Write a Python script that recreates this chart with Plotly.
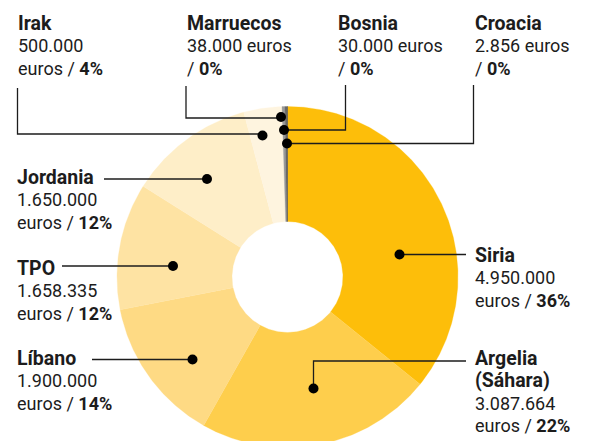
import math
import plotly.graph_objects as go

# ---- data ----
countries = ["Siria", "Argelia (Sáhara)", "Líbano", "TPO", "Jordania", "Irak",
             "Marruecos", "Bosnia", "Croacia"]
amounts = [4950000, 3087664, 1900000, 1658335, 1650000, 500000, 38000, 30000, 2856]
amount_labels = ["4.950.000", "3.087.664", "1.900.000", "1.658.335", "1.650.000",
                 "500.000", "38.000", "30.000", "2.856"]
pct_labels = ["36%", "22%", "14%", "12%", "12%", "4%", "0%", "0%", "0%"]
colors = ["#FDBE0A", "#FECE4C", "#FEDA84", "#FEE3A3", "#FEEEC8", "#FEF4DF",
          "#9A9A9A", "#6A6A6A", "#4A4A4A"]

# ---- layout constants (pixels) ----
W, H = 595, 441
OFF = 8  # default page body margin
CX, CY = 287.5, 277.0
R_OUT, R_IN = 170.5, 55.5
FONT = "Roboto"
FS = 17.2
TITLE_PX = 19.5
BODY_PX = 18
TXT = "#1c1c1c"
LINE = "#1c1c1c"

fig = go.Figure()

total = sum(amounts)
cum = 0.0
for name, val, col in zip(countries, amounts, colors):
    a0 = cum / total * 2 * math.pi
    cum += val
    a1 = cum / total * 2 * math.pi
    n = max(3, int((a1 - a0) * 180 / math.pi * 2))
    angs = [a0 + (a1 - a0) * k / n for k in range(n + 1)]
    xs = [CX + R_OUT * math.sin(a) for a in angs] + [CX + R_IN * math.sin(a) for a in reversed(angs)]
    ys = [CY - R_OUT * math.cos(a) for a in angs] + [CY - R_IN * math.cos(a) for a in reversed(angs)]
    xs.append(xs[0]); ys.append(ys[0])
    fig.add_trace(go.Scatter(x=xs, y=ys, mode="lines", fill="toself", fillcolor=col,
                             line=dict(width=0.3, color=col), hoverinfo="text",
                             text=name, showlegend=False))

# label placement: text anchor (x, y_top), leader polyline, dot
labels = {
    "Siria":            dict(tx=473.5, ty=243, path=[(466, 254.5), (399.5, 254.5)]),
    "Argelia (Sáhara)": dict(tx=473.5, ty=345.5, path=[(466, 361), (313.5, 361), (313.5, 388.5)]),
    "Líbano":           dict(tx=16, ty=345.5, path=[(92, 359.5), (192.5, 359.5)]),
    "TPO":              dict(tx=16, ty=255.5, path=[(62, 266), (173, 266)]),
    "Jordania":         dict(tx=16, ty=165, path=[(104, 179), (207, 179)]),
    "Irak":             dict(tx=16.5, ty=11, path=[(17.5, 88), (17.5, 134), (262.5, 134), (262.5, 135.5)]),
    "Marruecos":        dict(tx=185.5, ty=11, path=[(186, 86), (186, 118), (281, 118), (281, 117)]),
    "Bosnia":           dict(tx=336.5, ty=11, path=[(345.5, 85), (345.5, 130), (284, 130)]),
    "Croacia":          dict(tx=473.5, ty=11, path=[(473.5, 85), (473.5, 143.5), (287, 143.5)]),
}

def span(txt, px):
    return f'<span style="font-size:{px}px">{txt}</span>'

for name, amt, pct in zip(countries, amount_labels, pct_labels):
    L = labels[name]
    px = [p[0] for p in L["path"]]
    py = [p[1] for p in L["path"]]
    fig.add_trace(go.Scatter(x=px, y=py, mode="lines", line=dict(color=LINE, width=1.3),
                             hoverinfo="skip", showlegend=False))
    fig.add_trace(go.Scatter(x=[px[-1]], y=[py[-1]], mode="markers",
                             marker=dict(color="#000000", size=10),
                             hoverinfo="skip", showlegend=False))
    title_lines = name.replace(" (", "\n(").split("\n")
    if name in ("Marruecos", "Bosnia", "Croacia"):
        body_lines = [span(f"{amt} euros", BODY_PX), span(f"/ <b>{pct}</b>", BODY_PX)]
    else:
        body_lines = [span(amt, BODY_PX), span(f"euros / <b>{pct}</b>", BODY_PX)]
    lines = [f"<b>{span(t, TITLE_PX)}</b>" for t in title_lines] + body_lines
    fig.add_annotation(x=L["tx"], y=L["ty"], xref="x", yref="y", xanchor="left", yanchor="top",
                       align="left", showarrow=False, borderpad=0,
                       text="<br>".join(lines),
                       font=dict(family=FONT, size=FS, color=TXT))

fig.update_xaxes(range=[OFF, W + OFF], visible=False, fixedrange=True)
fig.update_yaxes(range=[H + OFF, OFF], visible=False, fixedrange=True)
fig.update_layout(width=W, height=H, margin=dict(l=0, r=0, t=0, b=0),
                  paper_bgcolor="white", plot_bgcolor="white", showlegend=False)

fig.write_html("out.html")
